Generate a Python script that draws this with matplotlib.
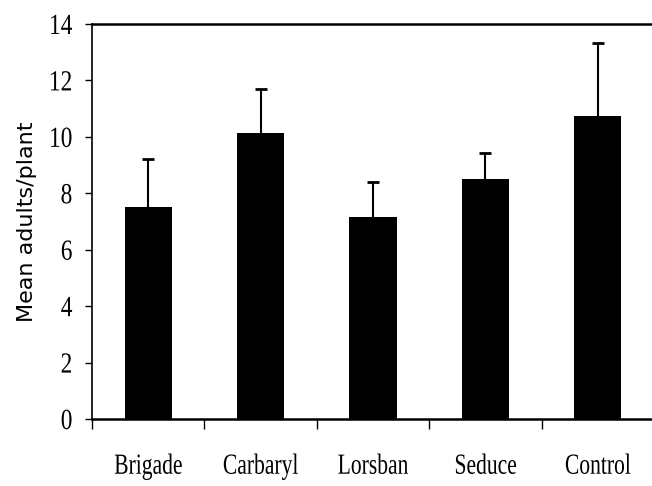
import matplotlib
matplotlib.use("Agg")
import matplotlib.pyplot as plt
import numpy as np
from matplotlib.patheffects import AbstractPathEffect
from matplotlib.transforms import Affine2D

# data
treatments = ["Brigade", "Carbaryl", "Lorsban", "Seduce", "Control"]
means = [7.53, 10.14, 7.15, 8.50, 10.74]
upper = [9.23, 11.68, 8.39, 9.44, 13.33]   # top of the error bar
yticks = [0, 2, 4, 6, 8, 10, 12, 14]


class Squeeze(AbstractPathEffect):
    """narrow the text sideways, the labels in the original look condensed"""
    def __init__(self, sx, anchor="center"):
        super().__init__()
        self.sx = sx
        self.anchor = anchor

    def draw_path(self, renderer, gc, tpath, affine, rgbFace=None):
        ext = affine.transform_path(tpath).get_extents()
        cx = ext.x1 if self.anchor == "right" else (ext.x0 + ext.x1) / 2
        squeeze = Affine2D().translate(-cx, 0).scale(self.sx, 1).translate(cx, 0)
        renderer.draw_path(gc, tpath, affine + squeeze, rgbFace)


errs = np.array(upper) - np.array(means)
x = np.arange(len(treatments))

fig = plt.figure(figsize=(6.52, 4.86), dpi=100)
ax = fig.add_axes([92 / 652, 67 / 486, 562 / 652, 395 / 486])

ax.bar(x, means, width=0.42, color="black", zorder=2)
# only the upper half of the error bar, cap on top
ax.errorbar(x, means, yerr=[np.zeros(len(x)), errs], fmt="none",
            ecolor="black", elinewidth=1.5, capsize=0, zorder=3)
ax.plot(x, upper, ls="none", marker="_", ms=8.6, mew=2, color="black", zorder=3)

ax.set_xlim(-0.5, 4.5)
ax.set_ylim(0, 14)

serif = "Liberation Serif"
ax.set_yticks(yticks)
ax.set_yticklabels([str(t) for t in yticks], fontsize=21, family=serif)
ax.tick_params(axis="y", direction="out", length=5, width=1, pad=9)
for lab in ax.get_yticklabels():
    lab.set_path_effects([Squeeze(0.8, "right")])

# boundary ticks on x, labels in the middle of each category
ax.set_xticks(np.arange(-0.5, 4.5, 1.0))
ax.set_xticklabels([])
ax.tick_params(axis="x", which="major", direction="out", length=7.5, width=1)
ax.set_xticks(x, minor=True)
ax.set_xticklabels(treatments, minor=True, fontsize=21, family=serif)
ax.tick_params(axis="x", which="minor", length=0, pad=25)
for lab in ax.get_xticklabels(minor=True):
    lab.set_path_effects([Squeeze(0.74)])

ax.set_ylabel("Mean adults/plant", fontsize=16, family="DejaVu Sans")
ax.yaxis.set_label_coords(-0.098, 0.5)

ax.spines["right"].set_visible(False)
ax.spines["top"].set_linewidth(1.8)
ax.spines["bottom"].set_linewidth(1.8)
ax.spines["left"].set_linewidth(1.2)

fig.savefig("out.png", dpi=100)
